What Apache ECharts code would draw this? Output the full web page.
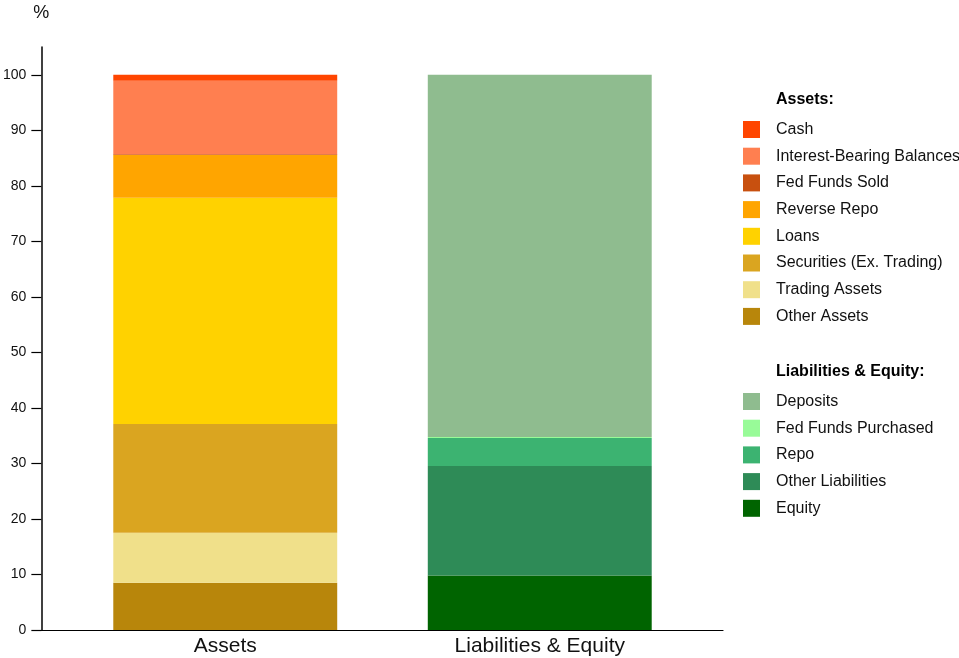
<!DOCTYPE html>
<html><head><meta charset="utf-8">
<script src="https://cdn.jsdelivr.net/npm/echarts@6/dist/echarts.min.js"></script>
<style>html,body{margin:0;padding:0;background:#fff}#c{width:959px;height:658px}</style>
</head><body><div id="c"></div>
<script>
const categories = ['Assets', 'Liabilities & Equity'];
const yTicks = [0, 10, 20, 30, 40, 50, 60, 70, 80, 90, 100];
// Assets (bottom to top)
const otherAssets = 8.5;
const tradingAssets = 9.0;
const securities = 19.6;
const loans = 40.75;
const reverseRepo = 7.7;
const fedFundsSold = 0.15;
const interestBearing = 13.2;
const cash = 1.1;
// Liabilities & Equity (bottom to top)
const equity = 9.8;
const otherLiabilities = 19.75;
const repo = 5.05;
const fedFundsPurchased = 0.15;
const deposits = 65.25;

const assetSeries = [
  ['Other Assets', otherAssets, '#B8860B'],
  ['Trading Assets', tradingAssets, '#F0E08A'],
  ['Securities (Ex. Trading)', securities, '#DAA520'],
  ['Loans', loans, '#FFD200'],
  ['Reverse Repo', reverseRepo, '#FFA500'],
  ['Fed Funds Sold', fedFundsSold, '#C8500F'],
  ['Interest-Bearing Balances', interestBearing, '#FF7F50'],
  ['Cash', cash, '#FF4500']
];
const liabSeries = [
  ['Equity', equity, '#006400'],
  ['Other Liabilities', otherLiabilities, '#2E8B57'],
  ['Repo', repo, '#3CB371'],
  ['Fed Funds Purchased', fedFundsPurchased, '#98FB98'],
  ['Deposits', deposits, '#8FBC8F']
];

const series = [];
assetSeries.forEach(s => series.push({
  name: s[0], type: 'bar', stack: 'total', xAxisIndex: 0, yAxisIndex: 0,
  barCategoryGap: '28.8%', itemStyle: { color: s[2] }, data: [s[1], '-'], animation: false
}));
liabSeries.forEach(s => series.push({
  name: s[0], type: 'bar', stack: 'total', xAxisIndex: 0, yAxisIndex: 0,
  barCategoryGap: '28.8%', itemStyle: { color: s[2] }, data: ['-', s[1]], animation: false
}));

const FONT = 'Liberation Sans, Arial, sans-serif';
const legendBase = {
  orient: 'vertical', left: 743, itemWidth: 17, itemHeight: 17, itemGap: 9.7,
  icon: 'rect', selectedMode: false,
  textStyle: { fontFamily: FONT, fontSize: 16, color: '#111', padding: [0, 0, 0, 11] },
  padding: 0
};

const chart = echarts.init(document.getElementById('c'), null, { renderer: 'canvas' });
chart.setOption({
  animation: false,
  backgroundColor: '#fff',
  textStyle: { fontFamily: FONT },
  title: [
    { text: 'Assets:', left: 776, top: 92, padding: 0,
      textStyle: { fontSize: 16, fontWeight: 'bold', color: '#000', fontFamily: FONT } },
    { text: 'Liabilities & Equity:', left: 776, top: 364, padding: 0,
      textStyle: { fontSize: 16, fontWeight: 'bold', color: '#000', fontFamily: FONT } }
  ],
  legend: [
    Object.assign({}, legendBase, { top: 121, data: assetSeries.map(s => s[0]).reverse() }),
    Object.assign({}, legendBase, { top: 393, data: liabSeries.map(s => s[0]).reverse() })
  ],
  grid: [
    { left: 68, right: 262, top: 47, bottom: 28 },
    { left: 40, right: 236, top: 47, bottom: 28 }
  ],
  xAxis: [
    { type: 'category', gridIndex: 0, data: categories,
      axisLine: { show: false }, axisTick: { show: false },
      axisLabel: { fontSize: 21, color: '#111', margin: 6, fontFamily: FONT } },
    { type: 'category', gridIndex: 1, data: categories,
      axisLine: { show: true, lineStyle: { color: '#000', width: 1.2 } },
      axisTick: { show: false }, axisLabel: { show: false } }
  ],
  yAxis: [
    { type: 'value', gridIndex: 0, min: 0, max: 105, show: false, splitLine: { show: false } },
    { type: 'value', gridIndex: 1, min: 0, max: 105,
      name: '%', nameLocation: 'end', nameGap: 25,
      nameTextStyle: { fontSize: 18, color: '#111', fontFamily: FONT, align: 'center' },
      axisLine: { show: true, lineStyle: { color: '#000', width: 1.5 } },
      axisTick: { show: true, length: 10, customValues: yTicks, lineStyle: { color: '#000', width: 1.2 } },
      axisLabel: { customValues: yTicks, fontSize: 14, color: '#111', margin: 15, fontFamily: FONT },
      splitLine: { show: false } }
  ],
  series: series
});
</script>
</body></html>
